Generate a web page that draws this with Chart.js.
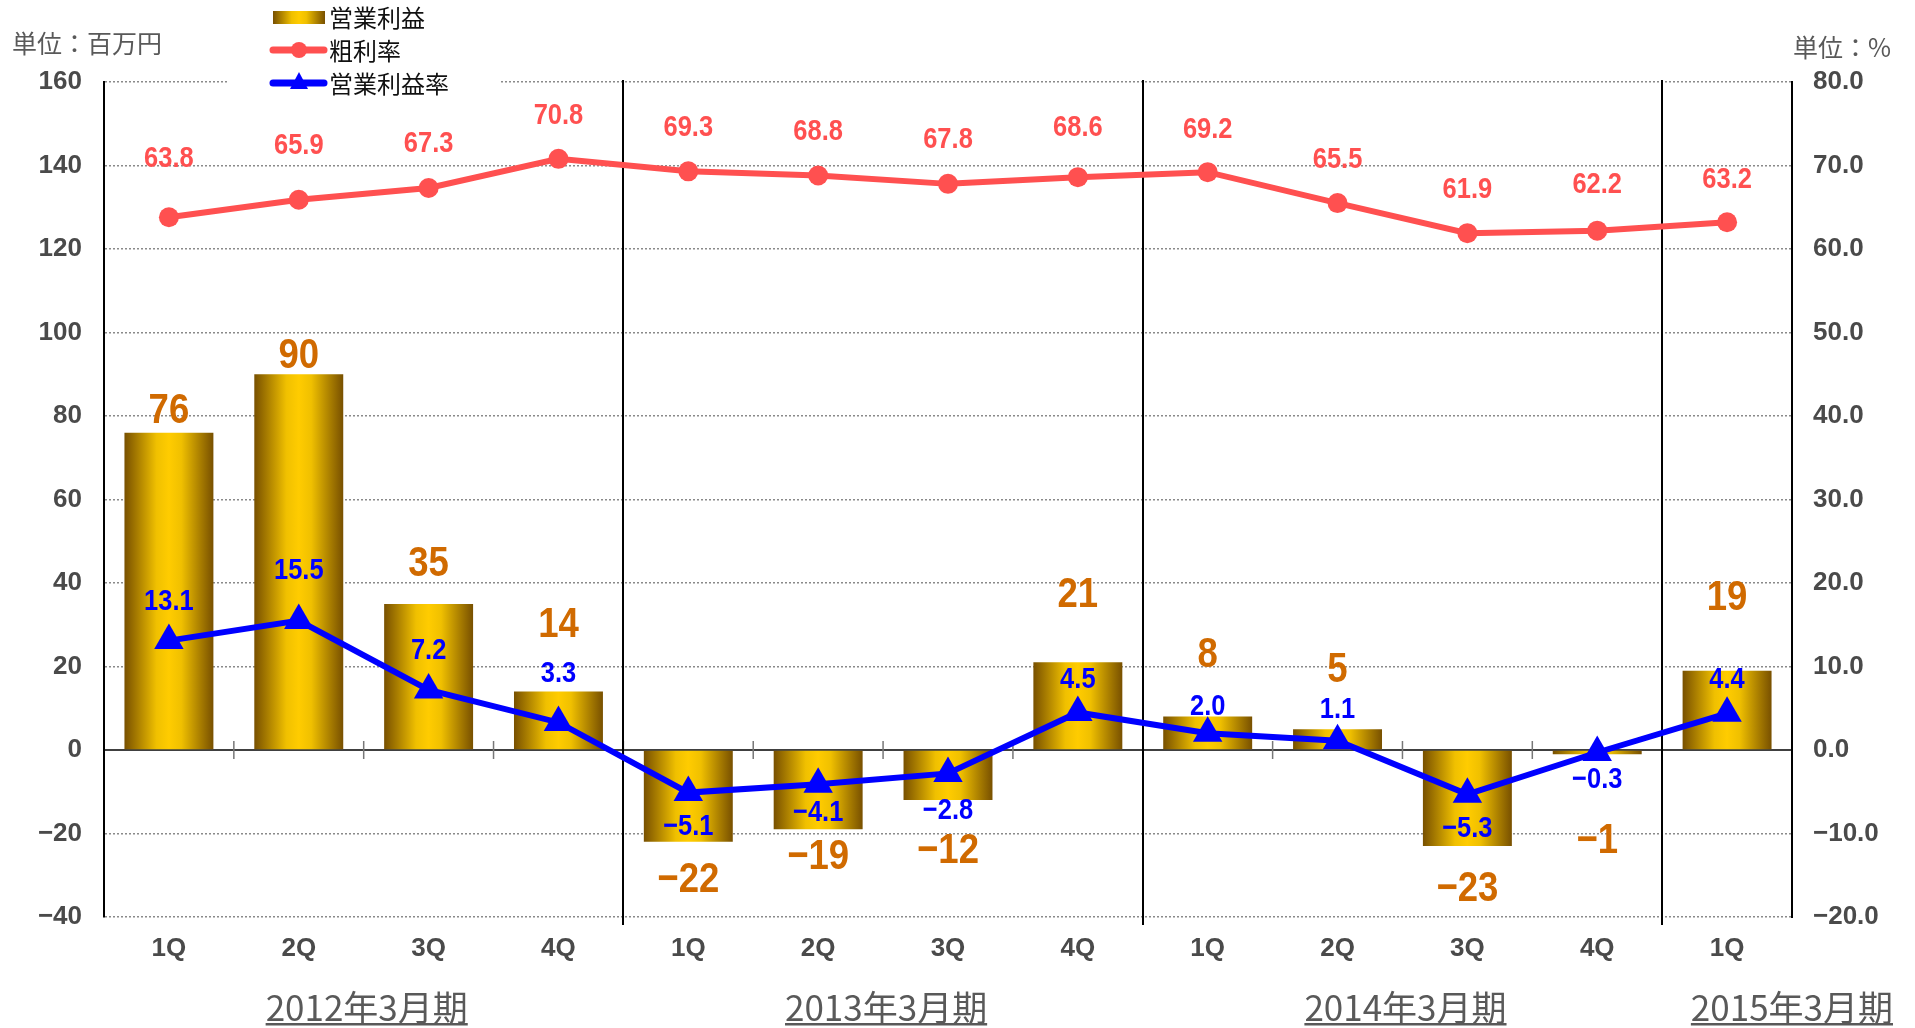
<!DOCTYPE html>
<html><head><meta charset="utf-8">
<script src="https://cdn.jsdelivr.net/npm/chart.js@4"></script>
<style>html,body{margin:0;padding:0;background:#fff;}#wrap{width:1915px;height:1028px;}</style>
</head><body><div id="wrap"><canvas id="c" width="1915" height="1028"></canvas></div>
<script>
// ---- data ----
const quarters = ['1Q','2Q','3Q','4Q','1Q','2Q','3Q','4Q','1Q','2Q','3Q','4Q','1Q'];
const fiscalYears = ['2012年3月期','2013年3月期','2014年3月期','2015年3月期'];
const fiscalYearQuarterCounts = [4,4,4,1];
const operatingProfit = [76,90,35,14,-22,-19,-12,21,8,5,-23,-1,19];
const grossMarginRate = [63.8,65.9,67.3,70.8,69.3,68.8,67.8,68.6,69.2,65.5,61.9,62.2,63.2];
const operatingMarginRate = [13.1,15.5,7.2,3.3,-5.1,-4.1,-2.8,4.5,2.0,1.1,-5.3,-0.3,4.4];
const seriesNames = ['営業利益','粗利率','営業利益率'];
const unitLeft = '単位：百万円';
const unitRight = '単位：%';
const leftAxisRange = [-40,160,20];
const rightAxisRange = [-20,80,10];

// ---- label layout (px gaps from mark) ----
const barLabelGap = [22,18,40,66,38,28,51,67,61,59,43,87,73];
const grossLabelGap = [59,54,44,43,44,44,44,49,42,43,43,46,43];
const opLabelGap = [39,50,39,49,34,28,37,33,27,31,34,27,34];

const NUM = '"Liberation Sans",Arial,sans-serif';
const JP = '"Noto Sans CJK JP","Noto Sans CJK SC",sans-serif';
const GRAY = '#4a4a4a';
const RED = '#FF5050';
const BLUE = '#0000FF';
const ORANGE = '#D06A00';
const BAR_PCT = 0.685;
const NARROW = 0.85;

const fmtInt = v => (v < 0 ? '\u2212' : '') + Math.abs(v);
const fmt1 = v => (v < 0 ? '\u2212' : '') + Math.abs(v).toFixed(1);

function goldGradient(ctx, x0, x1) {
  const g = ctx.createLinearGradient(x0, 0, x1, 0);
  g.addColorStop(0, '#785000');
  g.addColorStop(0.36, '#f0c000');
  g.addColorStop(0.5, '#ffcc00');
  g.addColorStop(0.64, '#f0c000');
  g.addColorStop(1, '#785000');
  return g;
}

function narrowText(ctx, txt, x, y) {
  ctx.save();
  ctx.translate(x, y);
  ctx.scale(NARROW, 1);
  ctx.fillText(txt, 0, 0);
  ctx.restore();
}

const decor = {
  id: 'decor',
  beforeDatasetsDraw(chart) {
    const {ctx, chartArea: a, scales: {x, y}} = chart;
    const y0 = y.getPixelForValue(0);
    ctx.save();
    ctx.strokeStyle = '#000'; ctx.lineWidth = 1.5;
    ctx.beginPath(); ctx.moveTo(a.left, y0); ctx.lineTo(a.right, y0); ctx.stroke();
    ctx.strokeStyle = '#777'; ctx.lineWidth = 1.5;
    for (let i = 1; i < quarters.length; i++) {
      const bx = (x.getPixelForValue(i - 1) + x.getPixelForValue(i)) / 2;
      ctx.beginPath(); ctx.moveTo(bx, y0 - 9); ctx.lineTo(bx, y0 + 9); ctx.stroke();
    }
    ctx.strokeStyle = '#000'; ctx.lineWidth = 2;
    let idx = 0;
    for (let g = 0; g < fiscalYearQuarterCounts.length - 1; g++) {
      idx += fiscalYearQuarterCounts[g];
      const bx = Math.round((x.getPixelForValue(idx - 1) + x.getPixelForValue(idx)) / 2);
      ctx.beginPath(); ctx.moveTo(bx, a.top - 2); ctx.lineTo(bx, a.bottom + 8); ctx.stroke();
    }
    ctx.restore();
  },
  afterDatasetsDraw(chart) {
    const {ctx} = chart;
    ctx.save();
    ctx.textAlign = 'center'; ctx.textBaseline = 'middle';
    const mb = chart.getDatasetMeta(2);
    ctx.fillStyle = ORANGE; ctx.font = 'bold 43px ' + NUM;
    mb.data.forEach((el, i) => {
      const v = operatingProfit[i];
      const yy = v >= 0 ? el.y - barLabelGap[i] : el.y + barLabelGap[i];
      narrowText(ctx, fmtInt(v), el.x, yy);
    });
    const mg = chart.getDatasetMeta(0);
    ctx.fillStyle = RED; ctx.font = 'bold 30px ' + NUM;
    mg.data.forEach((el, i) => narrowText(ctx, grossMarginRate[i].toFixed(1), el.x, el.y - grossLabelGap[i]));
    const mo = chart.getDatasetMeta(1);
    ctx.fillStyle = BLUE; ctx.font = 'bold 30px ' + NUM;
    mo.data.forEach((el, i) => {
      const v = operatingMarginRate[i];
      const yy = v >= 0 ? el.y - opLabelGap[i] : el.y + opLabelGap[i];
      narrowText(ctx, fmt1(v), el.x, yy);
    });
    ctx.restore();
  },
  afterDraw(chart) {
    const {ctx, scales: {x}} = chart;
    ctx.save();
    // legend
    ctx.fillStyle = '#fff'; ctx.fillRect(228, 0, 272, 100);
    ctx.fillStyle = goldGradient(ctx, 273, 325); ctx.fillRect(273, 11, 52, 13);
    ctx.lineCap = 'round';
    ctx.strokeStyle = RED; ctx.lineWidth = 7;
    ctx.beginPath(); ctx.moveTo(273, 50); ctx.lineTo(324, 50); ctx.stroke();
    ctx.fillStyle = RED; ctx.beginPath(); ctx.arc(299, 50, 8, 0, Math.PI * 2); ctx.fill();
    ctx.strokeStyle = BLUE;
    ctx.beginPath(); ctx.moveTo(273, 83); ctx.lineTo(324, 83); ctx.stroke();
    ctx.fillStyle = BLUE; ctx.beginPath(); ctx.moveTo(299, 72); ctx.lineTo(308, 89); ctx.lineTo(290, 89); ctx.closePath(); ctx.fill();
    ctx.fillStyle = '#111'; ctx.font = '24px ' + JP; ctx.textAlign = 'left'; ctx.textBaseline = 'middle';
    ctx.fillText(seriesNames[0], 329, 18);
    ctx.fillText(seriesNames[1], 329, 51);
    ctx.fillText(seriesNames[2], 329, 84);
    // unit titles
    ctx.fillStyle = '#595959'; ctx.font = '25px ' + JP;
    ctx.fillText(unitLeft, 12, 43);
    ctx.fillText(unitRight, 1793, 47);
    // fiscal year labels
    ctx.font = '35px ' + JP; ctx.textAlign = 'left';
    let idx = 0;
    fiscalYears.forEach((lbl, g) => {
      const first = idx, last = idx + fiscalYearQuarterCounts[g] - 1;
      idx += fiscalYearQuarterCounts[g];
      const cx = (x.getPixelForValue(first) + x.getPixelForValue(last)) / 2 + 3;
      const w = ctx.measureText(lbl).width;
      let left = cx - w / 2;
      if (g === fiscalYears.length - 1) left = chart.width - 22 - w;
      ctx.fillText(lbl, left, 1008);
      ctx.fillRect(left, 1023, w, 2.5);
    });
    ctx.restore();
  }
};

new Chart(document.getElementById('c'), {
  type: 'bar',
  data: {
    labels: quarters,
    datasets: [
      {
        type: 'line', label: seriesNames[1], data: grossMarginRate, yAxisID: 'y1', order: 0,
        borderColor: RED, backgroundColor: RED, borderWidth: 6,
        pointStyle: 'circle', pointRadius: 10, pointBackgroundColor: RED, pointBorderColor: RED, pointBorderWidth: 0,
        tension: 0
      },
      {
        type: 'line', label: seriesNames[2], data: operatingMarginRate, yAxisID: 'y1', order: 1,
        borderColor: BLUE, backgroundColor: BLUE, borderWidth: 6,
        pointStyle: 'triangle', pointRadius: 17, pointBackgroundColor: BLUE, pointBorderColor: BLUE, pointBorderWidth: 0,
        tension: 0
      },
      {
        type: 'bar', label: seriesNames[0], data: operatingProfit, yAxisID: 'y', order: 2,
        categoryPercentage: 1, barPercentage: BAR_PCT, borderWidth: 0,
        backgroundColor(c) {
          const chart = c.chart, a = chart.chartArea;
          if (!a || !chart.scales.x) return '#e0b000';
          const cx = chart.scales.x.getPixelForValue(c.dataIndex);
          const w = (a.width / quarters.length) * BAR_PCT;
          return goldGradient(chart.ctx, cx - w / 2, cx + w / 2);
        }
      }
    ]
  },
  options: {
    responsive: false, animation: false, devicePixelRatio: 1,
    layout: {padding: {top: 82, left: 0, right: 0, bottom: 0}},
    plugins: {legend: {display: false}, tooltip: {enabled: false}},
    scales: {
      x: {
        offset: true,
        grid: {display: false, drawTicks: false},
        border: {display: false},
        ticks: {color: GRAY, font: {family: NUM, size: 26, weight: 'bold'}, padding: 16, maxRotation: 0},
        afterFit(s) { s.height = 111; }
      },
      y: {
        position: 'left', min: leftAxisRange[0], max: leftAxisRange[1],
        ticks: {stepSize: leftAxisRange[2], color: GRAY, font: {family: NUM, size: 26, weight: 'bold'}, padding: 22, callback: v => fmtInt(v)},
        grid: {drawTicks: false, lineWidth: 1.5, color: c => (c.tick && c.tick.value === 0) ? 'rgba(0,0,0,0)' : '#8a8a8a'},
        border: {display: true, color: '#000', width: 2, dash: [2, 2]},
        afterFit(s) { s.width = 104; }
      },
      y1: {
        position: 'right', min: rightAxisRange[0], max: rightAxisRange[1],
        ticks: {stepSize: rightAxisRange[2], color: GRAY, font: {family: NUM, size: 26, weight: 'bold'}, padding: 21, callback: v => fmt1(v)},
        grid: {display: false, drawTicks: false},
        border: {display: true, color: '#000', width: 2},
        afterFit(s) { s.width = 123; }
      }
    }
  },
  plugins: [decor]
});
</script>
</body></html>
